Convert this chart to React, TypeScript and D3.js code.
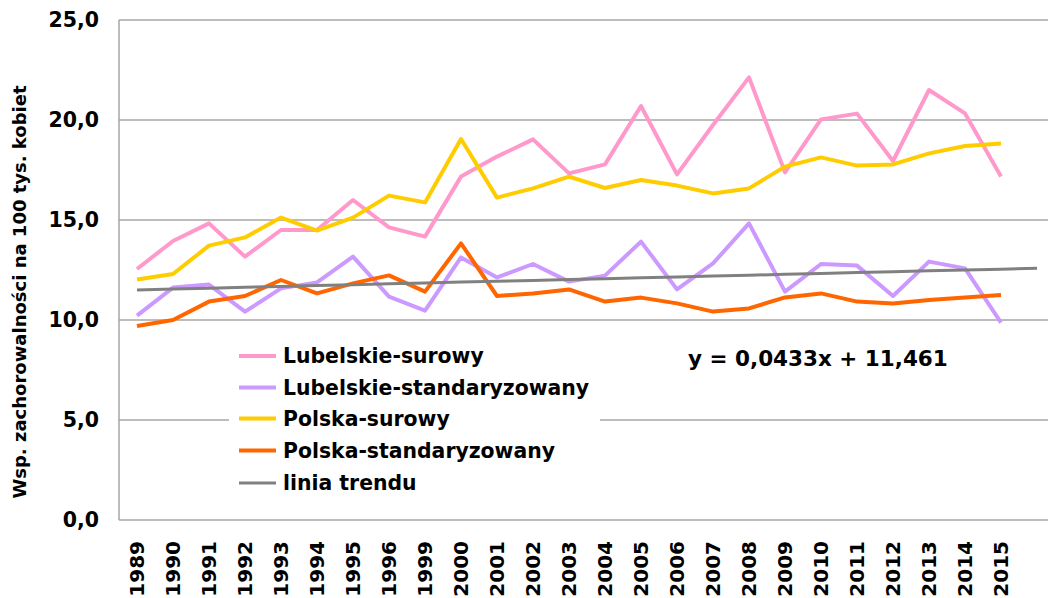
import React from "react";
import * as d3 from "d3";

const years = ["1989","1990","1991","1992","1993","1994","1995","1996","1999","2000","2001","2002","2003","2004","2005","2006","2007","2008","2009","2010","2011","2012","2013","2014","2015"];
const lubSurowy = [12.55,13.95,14.83,13.17,14.5,14.5,16.0,14.63,14.17,17.17,18.17,19.03,17.33,17.78,20.7,17.28,19.75,22.13,17.38,20.03,20.32,17.95,21.5,20.33,17.17];
const lubStd = [10.22,11.62,11.77,10.42,11.58,11.88,13.17,11.17,10.47,13.13,12.13,12.8,11.92,12.22,13.92,11.53,12.83,14.83,11.42,12.8,12.72,11.2,12.92,12.58,9.87];
const polSurowy = [12.03,12.3,13.72,14.13,15.12,14.47,15.12,16.22,15.88,19.05,16.12,16.58,17.17,16.6,17.0,16.72,16.33,16.58,17.67,18.13,17.72,17.78,18.33,18.7,18.83];
const polStd = [9.7,10.0,10.92,11.2,12.0,11.33,11.83,12.23,11.42,13.83,11.2,11.33,11.53,10.92,11.12,10.83,10.42,10.58,11.13,11.33,10.92,10.83,11.0,11.13,11.25];
const trendSlope = 0.0433;
const trendIntercept = 11.461;
const trendForward = 1;
const yTicks = [0, 5, 10, 15, 20, 25];
const seriesNames = ["Lubelskie-surowy","Lubelskie-standaryzowany","Polska-surowy","Polska-standaryzowany","linia trendu"];
const seriesColors = ["#FF99CC","#CC99FF","#FFCC00","#FF6600","#808080"];
const yTitle = "Wsp. zachorowalności na 100 tys. kobiet";
const equation = "y = 0,0433x + 11,461";

const W = 1048, H = 598;
const FONT = "'DejaVu Sans', Verdana, sans-serif";

export default function App() {
  const nSlots = years.length + trendForward;
  const x = d3.scaleBand<number>().domain(d3.range(nSlots)).range([119, 119 + 36 * nSlots]);
  const cx = (i: number) => (x(i) as number) + x.bandwidth() / 2;
  const y = d3.scaleLinear().domain([0, 25]).range([520, 20]);
  const fmt = (v: number) => v.toFixed(1).replace(".", ",");

  const line = d3.line<number>().x((_, i) => cx(i)).y((v) => y(v));
  const trendVals = d3.range(nSlots).map((i) => trendIntercept + trendSlope * (i + 1));
  const trendLine = d3.line<number>().x((_, i) => cx(i)).y((v) => y(v));

  const series = [lubSurowy, lubStd, polSurowy, polStd];
  const legendY = [356, 387.5, 418.5, 450.5, 483];

  return (
    <svg width={W} height={H} style={{ position: "absolute", left: 0, top: 0, background: "#fff" }} fontFamily={FONT}>
      <rect x={0} y={0} width={W} height={H} fill="#fff" />
      {yTicks.map((t) => (
        <line key={"g" + t} x1={119} x2={W} y1={y(t)} y2={y(t)} stroke="#a6a6a6" strokeWidth={1.5} />
      ))}
      <line x1={119} x2={119} y1={y(25)} y2={y(0)} stroke="#a6a6a6" strokeWidth={1.5} />
      {yTicks.map((t) => (
        <text key={"t" + t} x={99} y={y(t)} dy="0.36em" textAnchor="end" fontSize={20.5} fontWeight="bold" fill="#000">
          {fmt(t)}
        </text>
      ))}
      <text transform={`translate(26,292) rotate(-90)`} textAnchor="middle" fontSize={18} fontWeight="bold" fill="#000">
        {yTitle}
      </text>
      {years.map((yr, i) => (
        <text key={yr} transform={`translate(${cx(i) + 7},541) rotate(-90)`} textAnchor="end" fontSize={20} fontWeight="bold" fill="#000">
          {yr}
        </text>
      ))}
      <rect x={229} y={336} width={371} height={168} fill="#fff" />
      {series.map((s, k) => (
        <path key={"s" + k} d={line(s) || ""} fill="none" stroke={seriesColors[k]} strokeWidth={4} strokeLinejoin="round" />
      ))}
      <path d={trendLine(trendVals) || ""} fill="none" stroke={seriesColors[4]} strokeWidth={3} />
      {seriesNames.map((n, k) => (
        <g key={n}>
          <line x1={239} x2={276} y1={legendY[k]} y2={legendY[k]} stroke={seriesColors[k]} strokeWidth={k === 4 ? 3 : 4} />
          <text x={283} y={legendY[k]} dy="0.36em" fontSize={20.4} fontWeight="bold" fill="#000">{n}</text>
        </g>
      ))}
      <text x={688} y={366} fontSize={21.5} fontWeight="bold" fill="#000">{equation}</text>
    </svg>
  );
}
